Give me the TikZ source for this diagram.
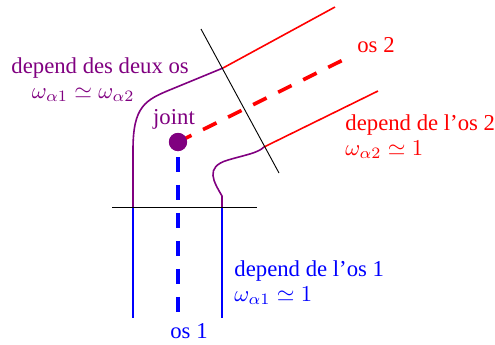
\documentclass[tikz,border=0pt]{standalone}
\usepackage{fontspec}
\setmainfont{Liberation Serif}
\definecolor{bonepurple}{RGB}{128,0,128}
\begin{document}
\begin{tikzpicture}[x=0.44pt,y=-0.44pt]
    \tikzstyle{every node}=[inner sep=0pt, font=\fontsize{10}{11}\selectfont];
    \tikzstyle{bone} = [line width=0.7pt]
    \tikzstyle{bonedash} = [line width=1.6pt, dash pattern=on 6.6pt off 5.7pt]
    \tikzstyle{cutline} = [line width=0.4pt, black]

    \useasboundingbox (0,0) rectangle (495,344);

    \node[circle, fill=bonepurple, minimum size=8pt] (Joint) at (178,142) {};
    \coordinate (Os1Start) at (178,157);
    \coordinate (Os1End) at (178,318);
    \coordinate (Os2End) at (353,55);

    % bone 1 (vertical)
    \coordinate (L1) at (133,207);
    \coordinate (R1) at (222,207);
    \draw[bone, blue] (L1) -- (133,318);
    \draw[bone, blue] (R1) -- (222,318);

    % bone 2 (slanted)
    \coordinate (L2) at (223,68);
    \coordinate (R2) at (264,147);
    \draw[bone, red] (L2) -- (335,7);
    \draw[bone, red] (R2) -- (378,91);

    % joint region
    \draw[bone, bonepurple] (L1) -- (133,150) .. controls (133,106) and (145,100) .. (172,89) -- (L2);
    \draw[bone, bonepurple] (R1) -- (222,196) .. controls (214,182) and (204,167) .. (228,160)
        .. controls (245,155) and (258,153) .. (R2);

    % cuts
    \draw[cutline] (112,207) -- (257,207);
    \draw[cutline] (201,29) -- (279,173);

    % axes
    \draw[bonedash, blue] (Os1Start) -- (Os1End);
    \draw[bonedash, red] (Joint.center) -- (Os2End);
    \node[circle, fill=bonepurple, minimum size=8pt] at (Joint) {};

    \node[bonepurple, anchor=base] (JointText) at (174,124) {joint};
    \node[red, anchor=base] (Os2Text) at (376,52) {os 2};
    \node[blue, anchor=base] (Os1Text) at (189,338) {os 1};
    \node[bonepurple, anchor=north west, align=left] (BothText) at (11,57) {depend des deux os\\\hspace*{0.9em}$\omega_{\alpha1}\simeq\omega_{\alpha2}$};
    \node[red, anchor=north west, align=left] (Dep2Text) at (345,114) {depend de l'os 2\\$\omega_{\alpha2}\simeq 1$};
    \node[blue, anchor=north west, align=left] (Dep1Text) at (234,260) {depend de l'os 1\\$\omega_{\alpha1}\simeq 1$};

\end{tikzpicture}
\end{document}
